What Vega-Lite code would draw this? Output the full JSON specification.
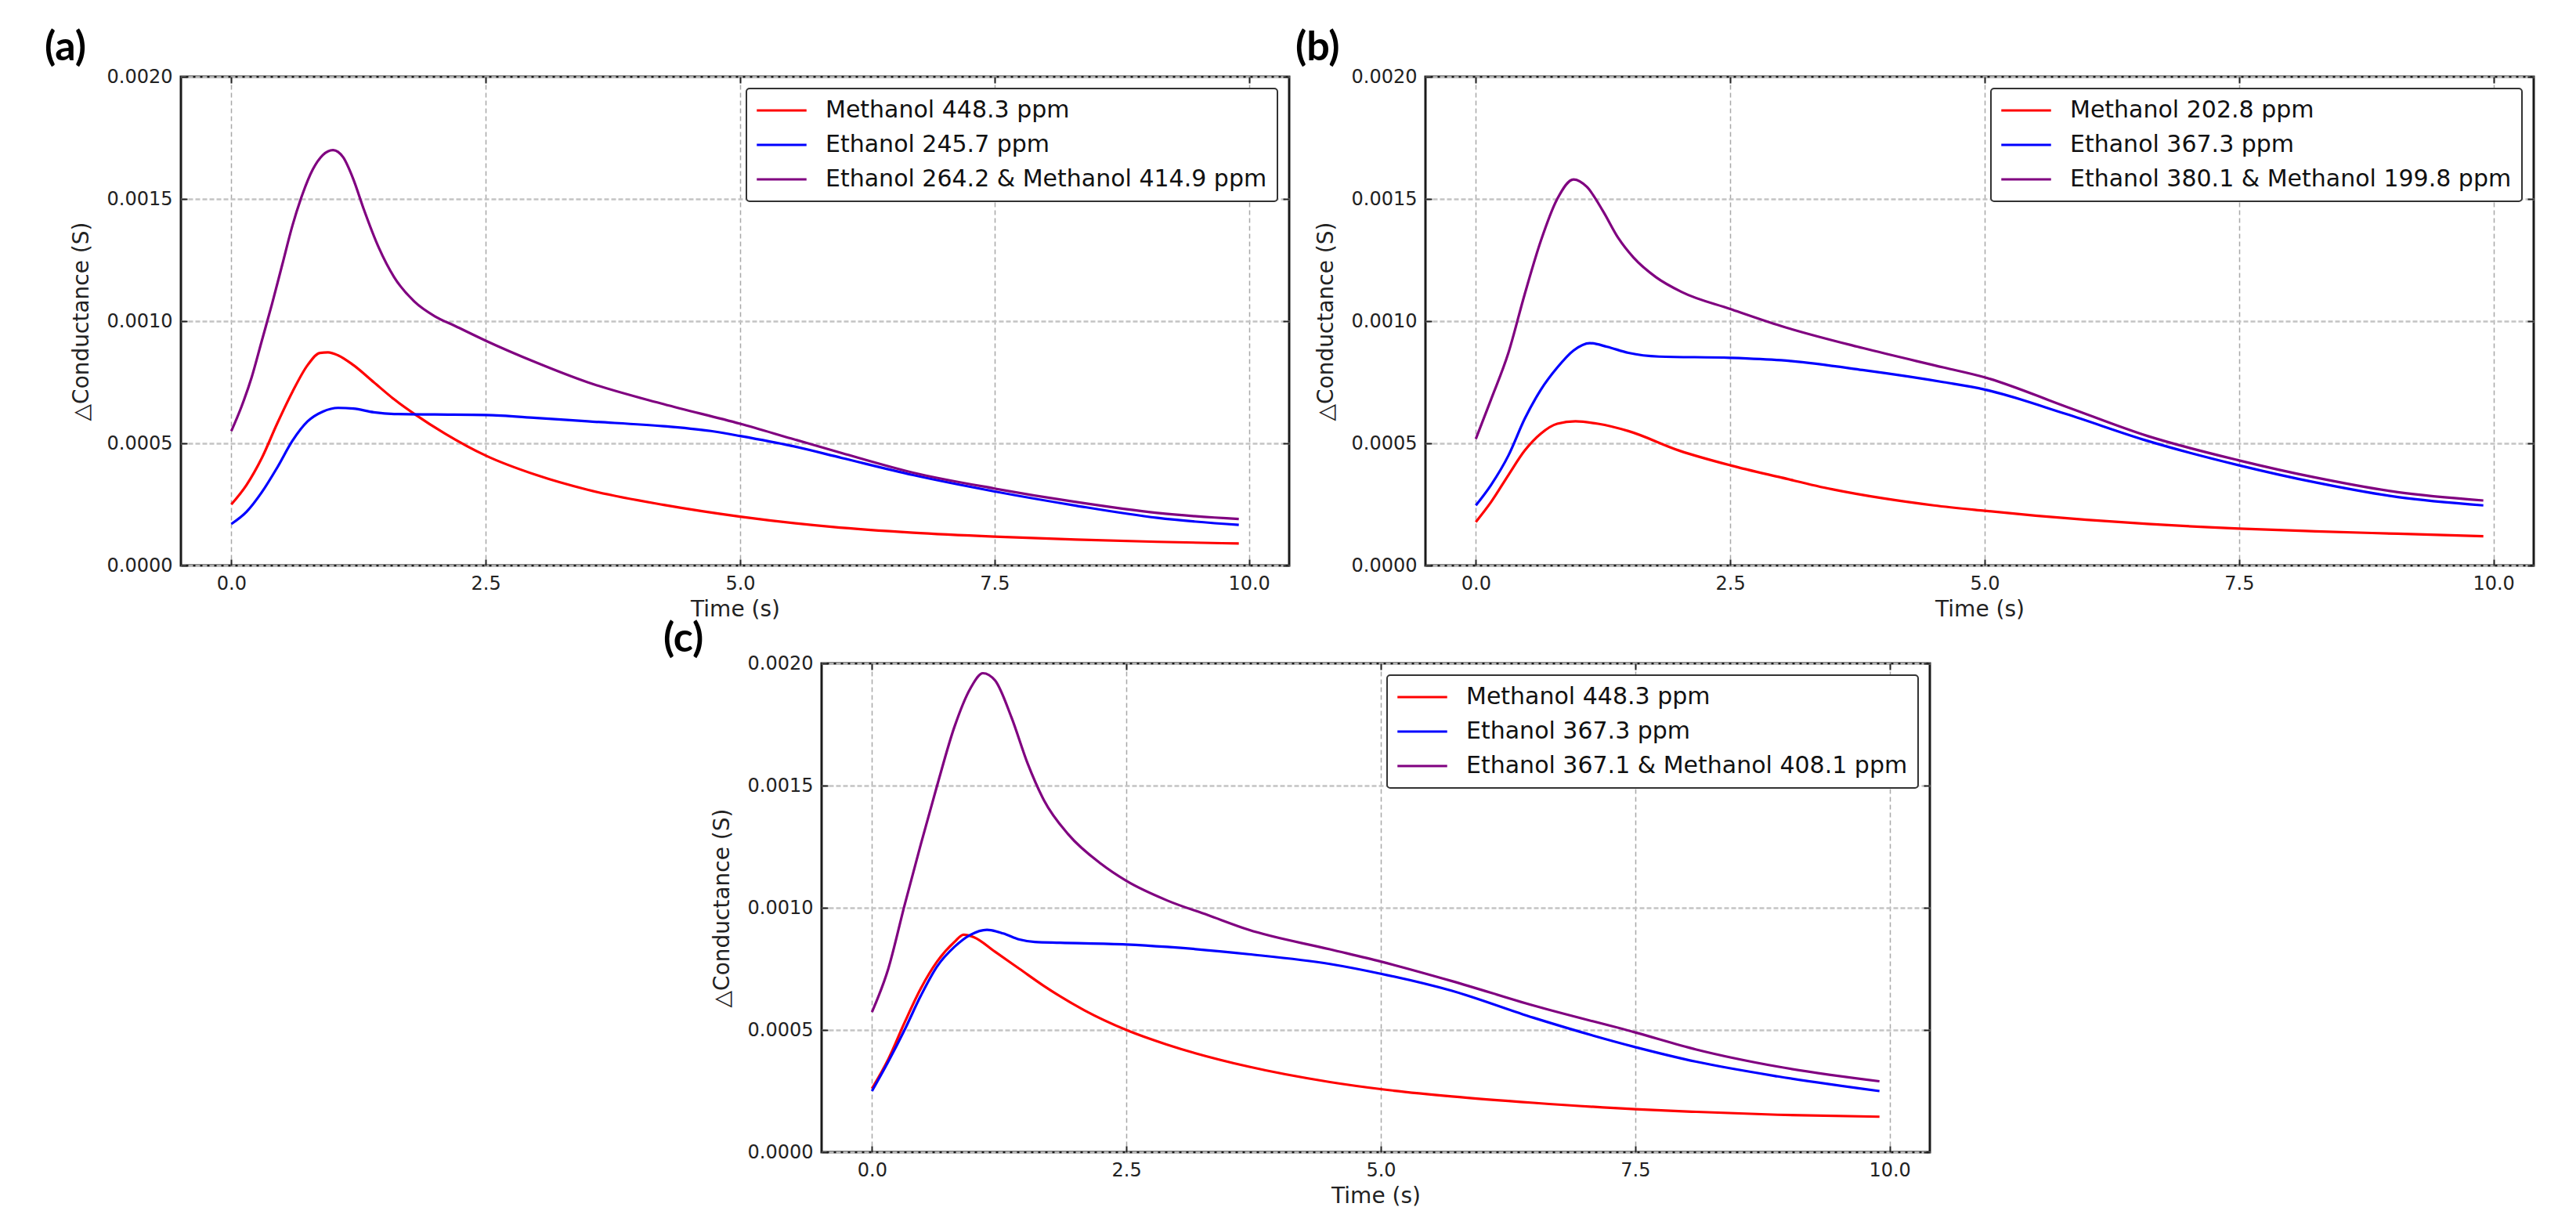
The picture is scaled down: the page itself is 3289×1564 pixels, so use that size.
{
  "$schema": "https://vega.github.io/schema/vega-lite/v6.json",
  "autosize": {"type": "pad"},
  "padding": {"left": 55, "top": 33, "right": 5, "bottom": 5},
  "background": "white",
  "config": {
    "font": "DejaVu Sans",
    "view": {"stroke": "#1a1a1a", "strokeWidth": 3},
    "axis": {
      "domain": false,
      "labelFont": "DejaVu Sans",
      "labelFontSize": 24,
      "labelColor": "#222",
      "titleFont": "DejaVu Sans",
      "titleFontSize": 28,
      "titleFontWeight": "normal",
      "titleColor": "#222",
      "tickSize": -8,
      "tickWidth": 2,
      "tickColor": "#222",
      "labelPadding": 19,
      "titlePadding": 7
    },
    "axisLeft": {"titlePadding": 18},
    "legend": {
      "title": null,
      "orient": "top-right",
      "offset": 15,
      "symbolType": "M-2.4,0H2.4",
      "symbolSize": 700,
      "symbolStrokeWidth": 4,
      "symbolOffset": 17,
      "labelFont": "DejaVu Sans",
      "labelFontSize": 30,
      "labelColor": "#111",
      "labelLimit": 1000,
      "labelOffset": 41,
      "padding": 13,
      "rowPadding": 14,
      "strokeColor": "#333",
      "strokeWidth": 2,
      "cornerRadius": 4,
      "fillColor": "white"
    },
    "title": {
      "font": "Lato",
      "fontWeight": "bold",
      "fontSize": 52,
      "color": "#000",
      "anchor": "start",
      "frame": "group",
      "offset": 0
    },
    "line": {"strokeWidth": 3.2, "interpolate": "monotone"}
  },
  "datasets": {
    "a": [
      {"t": 0, "v": 0.00025, "s": "Methanol 448.3 ppm"},
      {"t": 0.15, "v": 0.00033, "s": "Methanol 448.3 ppm"},
      {"t": 0.3, "v": 0.00044, "s": "Methanol 448.3 ppm"},
      {"t": 0.45, "v": 0.00058, "s": "Methanol 448.3 ppm"},
      {"t": 0.6, "v": 0.00071, "s": "Methanol 448.3 ppm"},
      {"t": 0.75, "v": 0.00082, "s": "Methanol 448.3 ppm"},
      {"t": 0.87, "v": 0.00087, "s": "Methanol 448.3 ppm"},
      {"t": 0.95, "v": 0.000872, "s": "Methanol 448.3 ppm"},
      {"t": 1.05, "v": 0.00086, "s": "Methanol 448.3 ppm"},
      {"t": 1.2, "v": 0.00082, "s": "Methanol 448.3 ppm"},
      {"t": 1.4, "v": 0.00075, "s": "Methanol 448.3 ppm"},
      {"t": 1.6, "v": 0.00068, "s": "Methanol 448.3 ppm"},
      {"t": 1.8, "v": 0.00062, "s": "Methanol 448.3 ppm"},
      {"t": 2.1, "v": 0.00054, "s": "Methanol 448.3 ppm"},
      {"t": 2.5, "v": 0.00045, "s": "Methanol 448.3 ppm"},
      {"t": 3.0, "v": 0.00037, "s": "Methanol 448.3 ppm"},
      {"t": 3.5, "v": 0.00031, "s": "Methanol 448.3 ppm"},
      {"t": 4.25, "v": 0.000248, "s": "Methanol 448.3 ppm"},
      {"t": 5.0, "v": 0.0002, "s": "Methanol 448.3 ppm"},
      {"t": 5.9, "v": 0.000158, "s": "Methanol 448.3 ppm"},
      {"t": 6.7, "v": 0.000134, "s": "Methanol 448.3 ppm"},
      {"t": 7.5, "v": 0.000118, "s": "Methanol 448.3 ppm"},
      {"t": 8.3, "v": 0.000106, "s": "Methanol 448.3 ppm"},
      {"t": 9.1, "v": 0.000097, "s": "Methanol 448.3 ppm"},
      {"t": 9.9, "v": 0.00009, "s": "Methanol 448.3 ppm"},
      {"t": 0, "v": 0.00017, "s": "Ethanol 245.7 ppm"},
      {"t": 0.15, "v": 0.00022, "s": "Ethanol 245.7 ppm"},
      {"t": 0.3, "v": 0.0003, "s": "Ethanol 245.7 ppm"},
      {"t": 0.45, "v": 0.0004, "s": "Ethanol 245.7 ppm"},
      {"t": 0.6, "v": 0.00051, "s": "Ethanol 245.7 ppm"},
      {"t": 0.75, "v": 0.00059, "s": "Ethanol 245.7 ppm"},
      {"t": 0.9, "v": 0.00063, "s": "Ethanol 245.7 ppm"},
      {"t": 1.05, "v": 0.000645, "s": "Ethanol 245.7 ppm"},
      {"t": 1.2, "v": 0.000642, "s": "Ethanol 245.7 ppm"},
      {"t": 1.4, "v": 0.000627, "s": "Ethanol 245.7 ppm"},
      {"t": 1.6, "v": 0.00062, "s": "Ethanol 245.7 ppm"},
      {"t": 2.0, "v": 0.000618, "s": "Ethanol 245.7 ppm"},
      {"t": 2.5, "v": 0.000616, "s": "Ethanol 245.7 ppm"},
      {"t": 3.0, "v": 0.000604, "s": "Ethanol 245.7 ppm"},
      {"t": 3.5, "v": 0.00059, "s": "Ethanol 245.7 ppm"},
      {"t": 4.25, "v": 0.00057, "s": "Ethanol 245.7 ppm"},
      {"t": 4.75, "v": 0.000548, "s": "Ethanol 245.7 ppm"},
      {"t": 5.0, "v": 0.00053, "s": "Ethanol 245.7 ppm"},
      {"t": 5.5, "v": 0.00049, "s": "Ethanol 245.7 ppm"},
      {"t": 6.0, "v": 0.00044, "s": "Ethanol 245.7 ppm"},
      {"t": 6.7, "v": 0.00037, "s": "Ethanol 245.7 ppm"},
      {"t": 7.5, "v": 0.000303, "s": "Ethanol 245.7 ppm"},
      {"t": 8.3, "v": 0.000245, "s": "Ethanol 245.7 ppm"},
      {"t": 9.1, "v": 0.000195, "s": "Ethanol 245.7 ppm"},
      {"t": 9.9, "v": 0.000166, "s": "Ethanol 245.7 ppm"},
      {"t": 0, "v": 0.00055, "s": "Ethanol 264.2 & Methanol 414.9 ppm"},
      {"t": 0.1, "v": 0.00065, "s": "Ethanol 264.2 & Methanol 414.9 ppm"},
      {"t": 0.2, "v": 0.00077, "s": "Ethanol 264.2 & Methanol 414.9 ppm"},
      {"t": 0.3, "v": 0.00092, "s": "Ethanol 264.2 & Methanol 414.9 ppm"},
      {"t": 0.4, "v": 0.00107, "s": "Ethanol 264.2 & Methanol 414.9 ppm"},
      {"t": 0.5, "v": 0.00123, "s": "Ethanol 264.2 & Methanol 414.9 ppm"},
      {"t": 0.6, "v": 0.00139, "s": "Ethanol 264.2 & Methanol 414.9 ppm"},
      {"t": 0.7, "v": 0.00152, "s": "Ethanol 264.2 & Methanol 414.9 ppm"},
      {"t": 0.8, "v": 0.00162, "s": "Ethanol 264.2 & Methanol 414.9 ppm"},
      {"t": 0.9, "v": 0.00168, "s": "Ethanol 264.2 & Methanol 414.9 ppm"},
      {"t": 1.0, "v": 0.0017, "s": "Ethanol 264.2 & Methanol 414.9 ppm"},
      {"t": 1.1, "v": 0.00167, "s": "Ethanol 264.2 & Methanol 414.9 ppm"},
      {"t": 1.2, "v": 0.00158, "s": "Ethanol 264.2 & Methanol 414.9 ppm"},
      {"t": 1.3, "v": 0.00146, "s": "Ethanol 264.2 & Methanol 414.9 ppm"},
      {"t": 1.45, "v": 0.0013, "s": "Ethanol 264.2 & Methanol 414.9 ppm"},
      {"t": 1.6, "v": 0.00118, "s": "Ethanol 264.2 & Methanol 414.9 ppm"},
      {"t": 1.8, "v": 0.00108, "s": "Ethanol 264.2 & Methanol 414.9 ppm"},
      {"t": 2.0, "v": 0.00102, "s": "Ethanol 264.2 & Methanol 414.9 ppm"},
      {"t": 2.2, "v": 0.00098, "s": "Ethanol 264.2 & Methanol 414.9 ppm"},
      {"t": 2.5, "v": 0.00092, "s": "Ethanol 264.2 & Methanol 414.9 ppm"},
      {"t": 3.0, "v": 0.00083, "s": "Ethanol 264.2 & Methanol 414.9 ppm"},
      {"t": 3.5, "v": 0.00075, "s": "Ethanol 264.2 & Methanol 414.9 ppm"},
      {"t": 4.25, "v": 0.00066, "s": "Ethanol 264.2 & Methanol 414.9 ppm"},
      {"t": 5.0, "v": 0.00058, "s": "Ethanol 264.2 & Methanol 414.9 ppm"},
      {"t": 5.5, "v": 0.00052, "s": "Ethanol 264.2 & Methanol 414.9 ppm"},
      {"t": 6.0, "v": 0.00046, "s": "Ethanol 264.2 & Methanol 414.9 ppm"},
      {"t": 6.7, "v": 0.00038, "s": "Ethanol 264.2 & Methanol 414.9 ppm"},
      {"t": 7.5, "v": 0.000315, "s": "Ethanol 264.2 & Methanol 414.9 ppm"},
      {"t": 8.3, "v": 0.00026, "s": "Ethanol 264.2 & Methanol 414.9 ppm"},
      {"t": 9.1, "v": 0.000215, "s": "Ethanol 264.2 & Methanol 414.9 ppm"},
      {"t": 9.9, "v": 0.00019, "s": "Ethanol 264.2 & Methanol 414.9 ppm"}
    ],
    "b": [
      {"t": 0, "v": 0.000178, "s": "Methanol 202.8 ppm"},
      {"t": 0.15, "v": 0.00026, "s": "Methanol 202.8 ppm"},
      {"t": 0.32, "v": 0.00037, "s": "Methanol 202.8 ppm"},
      {"t": 0.48, "v": 0.00047, "s": "Methanol 202.8 ppm"},
      {"t": 0.64, "v": 0.00054, "s": "Methanol 202.8 ppm"},
      {"t": 0.8, "v": 0.00058, "s": "Methanol 202.8 ppm"},
      {"t": 0.98, "v": 0.00059, "s": "Methanol 202.8 ppm"},
      {"t": 1.2, "v": 0.00058, "s": "Methanol 202.8 ppm"},
      {"t": 1.5, "v": 0.00055, "s": "Methanol 202.8 ppm"},
      {"t": 2.0, "v": 0.00047, "s": "Methanol 202.8 ppm"},
      {"t": 2.5, "v": 0.00041, "s": "Methanol 202.8 ppm"},
      {"t": 3.0, "v": 0.00036, "s": "Methanol 202.8 ppm"},
      {"t": 3.5, "v": 0.000312, "s": "Methanol 202.8 ppm"},
      {"t": 4.0, "v": 0.000275, "s": "Methanol 202.8 ppm"},
      {"t": 4.5, "v": 0.000246, "s": "Methanol 202.8 ppm"},
      {"t": 5.0, "v": 0.000224, "s": "Methanol 202.8 ppm"},
      {"t": 5.5, "v": 0.000204, "s": "Methanol 202.8 ppm"},
      {"t": 6.0, "v": 0.000187, "s": "Methanol 202.8 ppm"},
      {"t": 6.6, "v": 0.00017, "s": "Methanol 202.8 ppm"},
      {"t": 7.5, "v": 0.000151, "s": "Methanol 202.8 ppm"},
      {"t": 8.25, "v": 0.00014, "s": "Methanol 202.8 ppm"},
      {"t": 9.06, "v": 0.00013, "s": "Methanol 202.8 ppm"},
      {"t": 9.9, "v": 0.00012, "s": "Methanol 202.8 ppm"},
      {"t": 0, "v": 0.000246, "s": "Ethanol 367.3 ppm"},
      {"t": 0.15, "v": 0.00033, "s": "Ethanol 367.3 ppm"},
      {"t": 0.32, "v": 0.00045, "s": "Ethanol 367.3 ppm"},
      {"t": 0.48, "v": 0.0006, "s": "Ethanol 367.3 ppm"},
      {"t": 0.64, "v": 0.00072, "s": "Ethanol 367.3 ppm"},
      {"t": 0.8, "v": 0.00081, "s": "Ethanol 367.3 ppm"},
      {"t": 0.96, "v": 0.00088, "s": "Ethanol 367.3 ppm"},
      {"t": 1.12, "v": 0.00091, "s": "Ethanol 367.3 ppm"},
      {"t": 1.29, "v": 0.000895, "s": "Ethanol 367.3 ppm"},
      {"t": 1.5, "v": 0.00087, "s": "Ethanol 367.3 ppm"},
      {"t": 1.8, "v": 0.000855, "s": "Ethanol 367.3 ppm"},
      {"t": 2.5, "v": 0.00085, "s": "Ethanol 367.3 ppm"},
      {"t": 3.0, "v": 0.00084, "s": "Ethanol 367.3 ppm"},
      {"t": 3.8, "v": 0.0008, "s": "Ethanol 367.3 ppm"},
      {"t": 4.6, "v": 0.00075, "s": "Ethanol 367.3 ppm"},
      {"t": 5.0, "v": 0.00072, "s": "Ethanol 367.3 ppm"},
      {"t": 5.8, "v": 0.00062, "s": "Ethanol 367.3 ppm"},
      {"t": 6.6, "v": 0.00051, "s": "Ethanol 367.3 ppm"},
      {"t": 7.5, "v": 0.00041, "s": "Ethanol 367.3 ppm"},
      {"t": 8.25, "v": 0.00034, "s": "Ethanol 367.3 ppm"},
      {"t": 9.06, "v": 0.00028, "s": "Ethanol 367.3 ppm"},
      {"t": 9.9, "v": 0.000246, "s": "Ethanol 367.3 ppm"},
      {"t": 0, "v": 0.000518, "s": "Ethanol 380.1 & Methanol 199.8 ppm"},
      {"t": 0.15, "v": 0.00068, "s": "Ethanol 380.1 & Methanol 199.8 ppm"},
      {"t": 0.32, "v": 0.00087, "s": "Ethanol 380.1 & Methanol 199.8 ppm"},
      {"t": 0.48, "v": 0.00111, "s": "Ethanol 380.1 & Methanol 199.8 ppm"},
      {"t": 0.64, "v": 0.00133, "s": "Ethanol 380.1 & Methanol 199.8 ppm"},
      {"t": 0.8, "v": 0.0015, "s": "Ethanol 380.1 & Methanol 199.8 ppm"},
      {"t": 0.96, "v": 0.00158, "s": "Ethanol 380.1 & Methanol 199.8 ppm"},
      {"t": 1.09, "v": 0.00155, "s": "Ethanol 380.1 & Methanol 199.8 ppm"},
      {"t": 1.25, "v": 0.00145, "s": "Ethanol 380.1 & Methanol 199.8 ppm"},
      {"t": 1.4, "v": 0.00134, "s": "Ethanol 380.1 & Methanol 199.8 ppm"},
      {"t": 1.55, "v": 0.00126, "s": "Ethanol 380.1 & Methanol 199.8 ppm"},
      {"t": 1.77, "v": 0.00118, "s": "Ethanol 380.1 & Methanol 199.8 ppm"},
      {"t": 2.02, "v": 0.00112, "s": "Ethanol 380.1 & Methanol 199.8 ppm"},
      {"t": 2.5, "v": 0.00105, "s": "Ethanol 380.1 & Methanol 199.8 ppm"},
      {"t": 3.0, "v": 0.00098, "s": "Ethanol 380.1 & Methanol 199.8 ppm"},
      {"t": 3.8, "v": 0.00089, "s": "Ethanol 380.1 & Methanol 199.8 ppm"},
      {"t": 4.6, "v": 0.00081, "s": "Ethanol 380.1 & Methanol 199.8 ppm"},
      {"t": 5.0, "v": 0.00077, "s": "Ethanol 380.1 & Methanol 199.8 ppm"},
      {"t": 5.8, "v": 0.00065, "s": "Ethanol 380.1 & Methanol 199.8 ppm"},
      {"t": 6.6, "v": 0.00053, "s": "Ethanol 380.1 & Methanol 199.8 ppm"},
      {"t": 7.5, "v": 0.00043, "s": "Ethanol 380.1 & Methanol 199.8 ppm"},
      {"t": 8.25, "v": 0.00036, "s": "Ethanol 380.1 & Methanol 199.8 ppm"},
      {"t": 9.06, "v": 0.0003, "s": "Ethanol 380.1 & Methanol 199.8 ppm"},
      {"t": 9.9, "v": 0.000266, "s": "Ethanol 380.1 & Methanol 199.8 ppm"}
    ],
    "c": [
      {"t": 0, "v": 0.00026, "s": "Methanol 448.3 ppm"},
      {"t": 0.16, "v": 0.00038, "s": "Methanol 448.3 ppm"},
      {"t": 0.32, "v": 0.00053, "s": "Methanol 448.3 ppm"},
      {"t": 0.48, "v": 0.00067, "s": "Methanol 448.3 ppm"},
      {"t": 0.64, "v": 0.00078, "s": "Methanol 448.3 ppm"},
      {"t": 0.81, "v": 0.00086, "s": "Methanol 448.3 ppm"},
      {"t": 0.9, "v": 0.00089, "s": "Methanol 448.3 ppm"},
      {"t": 1.0, "v": 0.00088, "s": "Methanol 448.3 ppm"},
      {"t": 1.21, "v": 0.00082, "s": "Methanol 448.3 ppm"},
      {"t": 1.45, "v": 0.00075, "s": "Methanol 448.3 ppm"},
      {"t": 1.69, "v": 0.00068, "s": "Methanol 448.3 ppm"},
      {"t": 2.09, "v": 0.00058, "s": "Methanol 448.3 ppm"},
      {"t": 2.5, "v": 0.0005, "s": "Methanol 448.3 ppm"},
      {"t": 2.9, "v": 0.00044, "s": "Methanol 448.3 ppm"},
      {"t": 3.7, "v": 0.00035, "s": "Methanol 448.3 ppm"},
      {"t": 4.5, "v": 0.000287, "s": "Methanol 448.3 ppm"},
      {"t": 5.0, "v": 0.000258, "s": "Methanol 448.3 ppm"},
      {"t": 5.7, "v": 0.000228, "s": "Methanol 448.3 ppm"},
      {"t": 6.5, "v": 0.000202, "s": "Methanol 448.3 ppm"},
      {"t": 7.5, "v": 0.000176, "s": "Methanol 448.3 ppm"},
      {"t": 8.1, "v": 0.000165, "s": "Methanol 448.3 ppm"},
      {"t": 8.9, "v": 0.000153, "s": "Methanol 448.3 ppm"},
      {"t": 9.9, "v": 0.000145, "s": "Methanol 448.3 ppm"},
      {"t": 0, "v": 0.00025, "s": "Ethanol 367.3 ppm"},
      {"t": 0.16, "v": 0.00037, "s": "Ethanol 367.3 ppm"},
      {"t": 0.32, "v": 0.0005, "s": "Ethanol 367.3 ppm"},
      {"t": 0.48, "v": 0.00064, "s": "Ethanol 367.3 ppm"},
      {"t": 0.64, "v": 0.00076, "s": "Ethanol 367.3 ppm"},
      {"t": 0.81, "v": 0.00084, "s": "Ethanol 367.3 ppm"},
      {"t": 0.97, "v": 0.00089, "s": "Ethanol 367.3 ppm"},
      {"t": 1.13, "v": 0.00091, "s": "Ethanol 367.3 ppm"},
      {"t": 1.29, "v": 0.000895, "s": "Ethanol 367.3 ppm"},
      {"t": 1.45, "v": 0.00087, "s": "Ethanol 367.3 ppm"},
      {"t": 1.6, "v": 0.00086, "s": "Ethanol 367.3 ppm"},
      {"t": 1.85, "v": 0.000857, "s": "Ethanol 367.3 ppm"},
      {"t": 2.5, "v": 0.00085, "s": "Ethanol 367.3 ppm"},
      {"t": 2.9, "v": 0.00084, "s": "Ethanol 367.3 ppm"},
      {"t": 3.7, "v": 0.00081, "s": "Ethanol 367.3 ppm"},
      {"t": 4.5, "v": 0.00077, "s": "Ethanol 367.3 ppm"},
      {"t": 5.0, "v": 0.00073, "s": "Ethanol 367.3 ppm"},
      {"t": 5.7, "v": 0.00066, "s": "Ethanol 367.3 ppm"},
      {"t": 6.5, "v": 0.00055, "s": "Ethanol 367.3 ppm"},
      {"t": 7.5, "v": 0.00043, "s": "Ethanol 367.3 ppm"},
      {"t": 8.1, "v": 0.00037, "s": "Ethanol 367.3 ppm"},
      {"t": 8.9, "v": 0.00031, "s": "Ethanol 367.3 ppm"},
      {"t": 9.9, "v": 0.00025, "s": "Ethanol 367.3 ppm"},
      {"t": 0, "v": 0.000573, "s": "Ethanol 367.1 & Methanol 408.1 ppm"},
      {"t": 0.16, "v": 0.00075, "s": "Ethanol 367.1 & Methanol 408.1 ppm"},
      {"t": 0.32, "v": 0.00101, "s": "Ethanol 367.1 & Methanol 408.1 ppm"},
      {"t": 0.48, "v": 0.00126, "s": "Ethanol 367.1 & Methanol 408.1 ppm"},
      {"t": 0.64, "v": 0.0015, "s": "Ethanol 367.1 & Methanol 408.1 ppm"},
      {"t": 0.81, "v": 0.00174, "s": "Ethanol 367.1 & Methanol 408.1 ppm"},
      {"t": 0.97, "v": 0.0019, "s": "Ethanol 367.1 & Methanol 408.1 ppm"},
      {"t": 1.09, "v": 0.00196, "s": "Ethanol 367.1 & Methanol 408.1 ppm"},
      {"t": 1.21, "v": 0.00193, "s": "Ethanol 367.1 & Methanol 408.1 ppm"},
      {"t": 1.37, "v": 0.00178, "s": "Ethanol 367.1 & Methanol 408.1 ppm"},
      {"t": 1.53, "v": 0.00159, "s": "Ethanol 367.1 & Methanol 408.1 ppm"},
      {"t": 1.69, "v": 0.00144, "s": "Ethanol 367.1 & Methanol 408.1 ppm"},
      {"t": 1.93, "v": 0.0013, "s": "Ethanol 367.1 & Methanol 408.1 ppm"},
      {"t": 2.25, "v": 0.00118, "s": "Ethanol 367.1 & Methanol 408.1 ppm"},
      {"t": 2.5, "v": 0.00111, "s": "Ethanol 367.1 & Methanol 408.1 ppm"},
      {"t": 2.9, "v": 0.00103, "s": "Ethanol 367.1 & Methanol 408.1 ppm"},
      {"t": 3.3, "v": 0.00097, "s": "Ethanol 367.1 & Methanol 408.1 ppm"},
      {"t": 3.7, "v": 0.00091, "s": "Ethanol 367.1 & Methanol 408.1 ppm"},
      {"t": 4.5, "v": 0.00083, "s": "Ethanol 367.1 & Methanol 408.1 ppm"},
      {"t": 5.0, "v": 0.00078, "s": "Ethanol 367.1 & Methanol 408.1 ppm"},
      {"t": 5.7, "v": 0.0007, "s": "Ethanol 367.1 & Methanol 408.1 ppm"},
      {"t": 6.5, "v": 0.0006, "s": "Ethanol 367.1 & Methanol 408.1 ppm"},
      {"t": 7.5, "v": 0.00049, "s": "Ethanol 367.1 & Methanol 408.1 ppm"},
      {"t": 8.1, "v": 0.00042, "s": "Ethanol 367.1 & Methanol 408.1 ppm"},
      {"t": 8.9, "v": 0.00035, "s": "Ethanol 367.1 & Methanol 408.1 ppm"},
      {"t": 9.9, "v": 0.00029, "s": "Ethanol 367.1 & Methanol 408.1 ppm"}
    ]
  },
  "spacing": -6,
  "resolve": {"scale": {"color": "independent"}, "legend": {"color": "independent"}},
  "vconcat": [
    {
      "bounds": "flush",
      "spacing": 174,
      "resolve": {"scale": {"color": "independent"}, "legend": {"color": "independent"}},
      "hconcat": [
        {
          "width": 1415,
          "height": 624,
          "title": {"text": "(a)", "dx": -174, "dy": 6},
          "data": {"name": "a"},
          "layer": [
            {
              "mark": "line",
              "encoding": {
                "x": {"field": "t", "type": "quantitative", "scale": {"domain": [-0.495, 10.395], "nice": false, "zero": false},
                  "axis": {"values": [0, 2.5, 5, 7.5, 10], "format": ".1f", "title": "Time (s)", "grid": true, "gridDash": [6, 4], "gridColor": "#a8a8a8", "gridWidth": 1.5}},
                "y": {"field": "v", "type": "quantitative", "scale": {"domain": [0, 0.002], "nice": false},
                  "axis": {"values": [0, 0.0005, 0.001, 0.0015, 0.002], "format": ".4f", "title": "△Conductance (S)", "grid": true, "gridDash": [6, 3], "gridColor": "#c4c4c4", "gridWidth": 2.5}},
                "color": {"field": "s", "type": "nominal",
                  "scale": {"domain": ["Methanol 448.3 ppm", "Ethanol 245.7 ppm", "Ethanol 264.2 & Methanol 414.9 ppm"], "range": ["#ff0000", "#0000ff", "#800080"]}}
              }
            },
            {
              "mark": {"type": "point", "opacity": 0},
              "encoding": {
                "x": {"field": "t", "type": "quantitative", "axis": {"orient": "top", "values": [0, 2.5, 5, 7.5, 10], "labels": false, "title": null, "grid": false}},
                "y": {"field": "v", "type": "quantitative", "axis": {"orient": "right", "values": [0, 0.0005, 0.001, 0.0015, 0.002], "labels": false, "title": null, "grid": false}}
              }
            }
          ],
          "resolve": {"axis": {"x": "independent", "y": "independent"}}
        },
        {
          "width": 1415,
          "height": 624,
          "title": {"text": "(b)", "dx": -166, "dy": 6},
          "data": {"name": "b"},
          "layer": [
            {
              "mark": "line",
              "encoding": {
                "x": {"field": "t", "type": "quantitative", "scale": {"domain": [-0.495, 10.395], "nice": false, "zero": false},
                  "axis": {"values": [0, 2.5, 5, 7.5, 10], "format": ".1f", "title": "Time (s)", "grid": true, "gridDash": [6, 4], "gridColor": "#a8a8a8", "gridWidth": 1.5}},
                "y": {"field": "v", "type": "quantitative", "scale": {"domain": [0, 0.002], "nice": false},
                  "axis": {"values": [0, 0.0005, 0.001, 0.0015, 0.002], "format": ".4f", "title": "△Conductance (S)", "grid": true, "gridDash": [6, 3], "gridColor": "#c4c4c4", "gridWidth": 2.5}},
                "color": {"field": "s", "type": "nominal",
                  "scale": {"domain": ["Methanol 202.8 ppm", "Ethanol 367.3 ppm", "Ethanol 380.1 & Methanol 199.8 ppm"], "range": ["#ff0000", "#0000ff", "#800080"]}}
              }
            },
            {
              "mark": {"type": "point", "opacity": 0},
              "encoding": {
                "x": {"field": "t", "type": "quantitative", "axis": {"orient": "top", "values": [0, 2.5, 5, 7.5, 10], "labels": false, "title": null, "grid": false}},
                "y": {"field": "v", "type": "quantitative", "axis": {"orient": "right", "values": [0, 0.0005, 0.001, 0.0015, 0.002], "labels": false, "title": null, "grid": false}}
              }
            }
          ],
          "resolve": {"axis": {"x": "independent", "y": "independent"}}
        }
      ]
    },
    {
      "bounds": "flush",
      "spacing": 0,
      "resolve": {"scale": {"color": "independent"}, "legend": {"color": "independent"}},
      "hconcat": [
        {
          "width": 818,
          "height": 624,
          "view": {"stroke": null, "fill": "white"},
          "data": {"values": [{}]},
          "mark": {"type": "point", "opacity": 0},
          "encoding": {}
        },
        {
          "width": 1415,
          "height": 624,
          "title": {"text": "(c)", "dx": -202, "dy": 12},
          "data": {"name": "c"},
          "layer": [
            {
              "mark": "line",
              "encoding": {
                "x": {"field": "t", "type": "quantitative", "scale": {"domain": [-0.495, 10.395], "nice": false, "zero": false},
                  "axis": {"values": [0, 2.5, 5, 7.5, 10], "format": ".1f", "title": "Time (s)", "grid": true, "gridDash": [6, 4], "gridColor": "#a8a8a8", "gridWidth": 1.5}},
                "y": {"field": "v", "type": "quantitative", "scale": {"domain": [0, 0.002], "nice": false},
                  "axis": {"values": [0, 0.0005, 0.001, 0.0015, 0.002], "format": ".4f", "title": "△Conductance (S)", "grid": true, "gridDash": [6, 3], "gridColor": "#c4c4c4", "gridWidth": 2.5}},
                "color": {"field": "s", "type": "nominal",
                  "scale": {"domain": ["Methanol 448.3 ppm", "Ethanol 367.3 ppm", "Ethanol 367.1 & Methanol 408.1 ppm"], "range": ["#ff0000", "#0000ff", "#800080"]}}
              }
            },
            {
              "mark": {"type": "point", "opacity": 0},
              "encoding": {
                "x": {"field": "t", "type": "quantitative", "axis": {"orient": "top", "values": [0, 2.5, 5, 7.5, 10], "labels": false, "title": null, "grid": false}},
                "y": {"field": "v", "type": "quantitative", "axis": {"orient": "right", "values": [0, 0.0005, 0.001, 0.0015, 0.002], "labels": false, "title": null, "grid": false}}
              }
            }
          ],
          "resolve": {"axis": {"x": "independent", "y": "independent"}}
        }
      ]
    }
  ]
}
